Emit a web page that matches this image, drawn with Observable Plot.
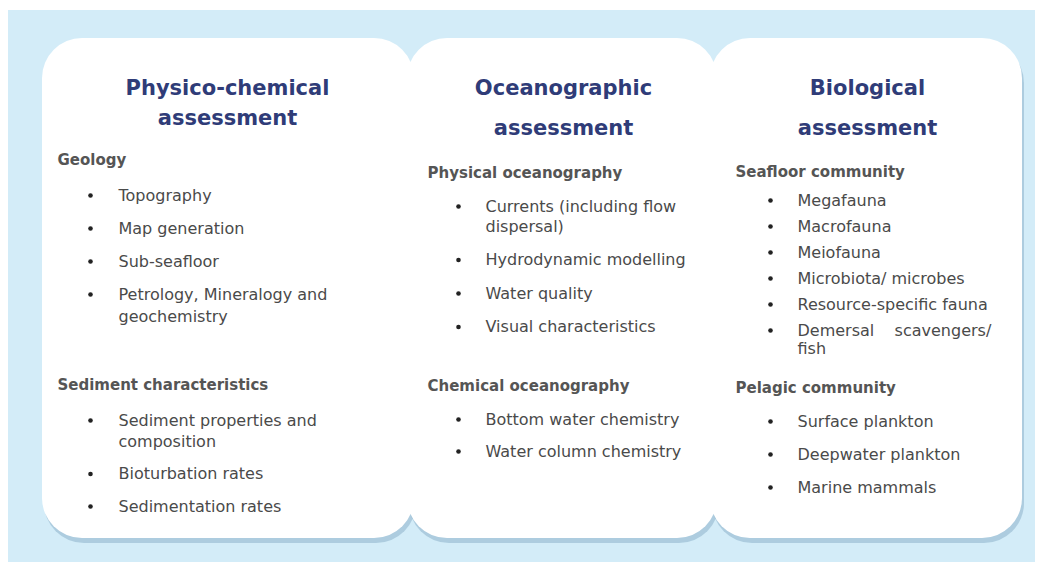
<!DOCTYPE html>
<html><head><meta charset="utf-8">
<script src="https://cdn.jsdelivr.net/npm/d3@7"></script>
<script src="https://cdn.jsdelivr.net/npm/@observablehq/plot@0.6"></script>
<style>body{margin:0;background:#fff}</style>
</head><body><div id="chart"></div>
<script>
// ---- content ----
const cardTitles = [
  ["Physico-chemical", "assessment"],
  ["Oceanographic", "assessment"],
  ["Biological", "assessment"]
];
const physicoSections = [
  {heading: "Geology", items: [["Topography"], ["Map generation"], ["Sub-seafloor"], ["Petrology, Mineralogy and", "geochemistry"]]},
  {heading: "Sediment characteristics", items: [["Sediment properties and", "composition"], ["Bioturbation rates"], ["Sedimentation rates"]]}
];
const oceanoSections = [
  {heading: "Physical oceanography", items: [["Currents (including flow", "dispersal)"], ["Hydrodynamic modelling"], ["Water quality"], ["Visual characteristics"]]},
  {heading: "Chemical oceanography", items: [["Bottom water chemistry"], ["Water column chemistry"]]}
];
const bioSections = [
  {heading: "Seafloor community", items: [["Megafauna"], ["Macrofauna"], ["Meiofauna"], ["Microbiota/ microbes"], ["Resource-specific fauna"], ["Demersal\u00a0\u00a0\u00a0\u00a0scavengers/", "fish"]]},
  {heading: "Pelagic community", items: [["Surface plankton"], ["Deepwater plankton"], ["Marine mammals"]]}
];
const cardSections = [physicoSections, oceanoSections, bioSections];

// ---- layout (pixels) ----
const W = 1044, H = 563;
const panel = {x1: 8, x2: 1035, y1: 10, y2: 562};
const layout = [
  {x1: 42, x2: 414, cx: 227, titleY: [88, 118], headX: 57, bulletX: 90, textX: 118,
   sections: [{y: 160, gap: 35, step: 33, wrap: 22}, {y: 385, gap: 35, step: 32.5, wrap: 21}]},
  {x1: 407, x2: 717, cx: 563, titleY: [88, 128], headX: 427, bulletX: 458, textX: 485,
   sections: [{y: 173, gap: 33, step: 33.5, wrap: 20}, {y: 386, gap: 33, step: 32, wrap: 20}]},
  {x1: 710, x2: 1022, cx: 867, titleY: [88, 128], headX: 735, bulletX: 770, textX: 797,
   sections: [{y: 172, gap: 28, step: 26, wrap: 18}, {y: 388, gap: 33, step: 33, wrap: 18}]}
];
const cardY1 = 38, cardY2 = 538;

// ---- build rows ----
const cards = layout.map((l, i) => ({x1: l.x1, x2: l.x2, y1: cardY1, y2: cardY2, name: cardTitles[i].join(" ")}));
const titleRows = [], headRows = [], lineRows = [], bulletRows = [];
layout.forEach((l, i) => {
  cardTitles[i].forEach((t, j) => titleRows.push({x: l.cx, y: l.titleY[j], text: t}));
  cardSections[i].forEach((sec, s) => {
    const g = l.sections[s];
    headRows.push({x: l.headX, y: g.y, text: sec.heading});
    let y = g.y + g.gap;
    sec.items.forEach((lines, k) => {
      if (k > 0) y += g.step;
      bulletRows.push({x: l.bulletX, y});
      lines.forEach((ln, m) => {
        if (m > 0) y += g.wrap;
        lineRows.push({x: l.textX, y, text: ln});
      });
    });
  });
});

const chart = Plot.plot({
  width: W, height: H, margin: 0,
  x: {domain: [0, W], range: [0, W], axis: null},
  y: {domain: [0, H], range: [0, H], axis: null},
  style: {background: "#ffffff"},
  marks: [
    Plot.rect([panel], {x1: "x1", x2: "x2", y1: "y1", y2: "y2", fill: "#d3ecf8"}),
    Plot.rect(cards, {x1: "x1", x2: "x2", y1: "y1", y2: "y2", fill: "#7fa6c0", fillOpacity: 0.45, rx: 40, dx: 2, dy: 5, ariaLabel: "shadow"}),
    Plot.rect(cards, {x1: "x1", x2: "x2", y1: "y1", y2: "y2", fill: "#ffffff", rx: 40}),
    Plot.text(titleRows, {x: "x", y: "y", text: "text", fill: "#2f3c78", fontSize: 21, fontWeight: "bold", fontFamily: "DejaVu Sans", textAnchor: "middle"}),
    Plot.text(headRows, {x: "x", y: "y", text: "text", fill: "#555555", fontSize: 15, fontWeight: "bold", fontFamily: "DejaVu Sans", textAnchor: "start"}),
    Plot.dot(bulletRows, {x: "x", y: "y", r: 2.3, fill: "#222222", stroke: null}),
    Plot.text(lineRows, {x: "x", y: "y", text: "text", fill: "#4a4a4a", fontSize: 16, fontFamily: "DejaVu Sans", textAnchor: "start"})
  ]
});
d3.select(chart).select('g[aria-label="shadow"]').style("filter", "blur(4px)");
document.getElementById("chart").append(chart);
</script>
</body></html>
